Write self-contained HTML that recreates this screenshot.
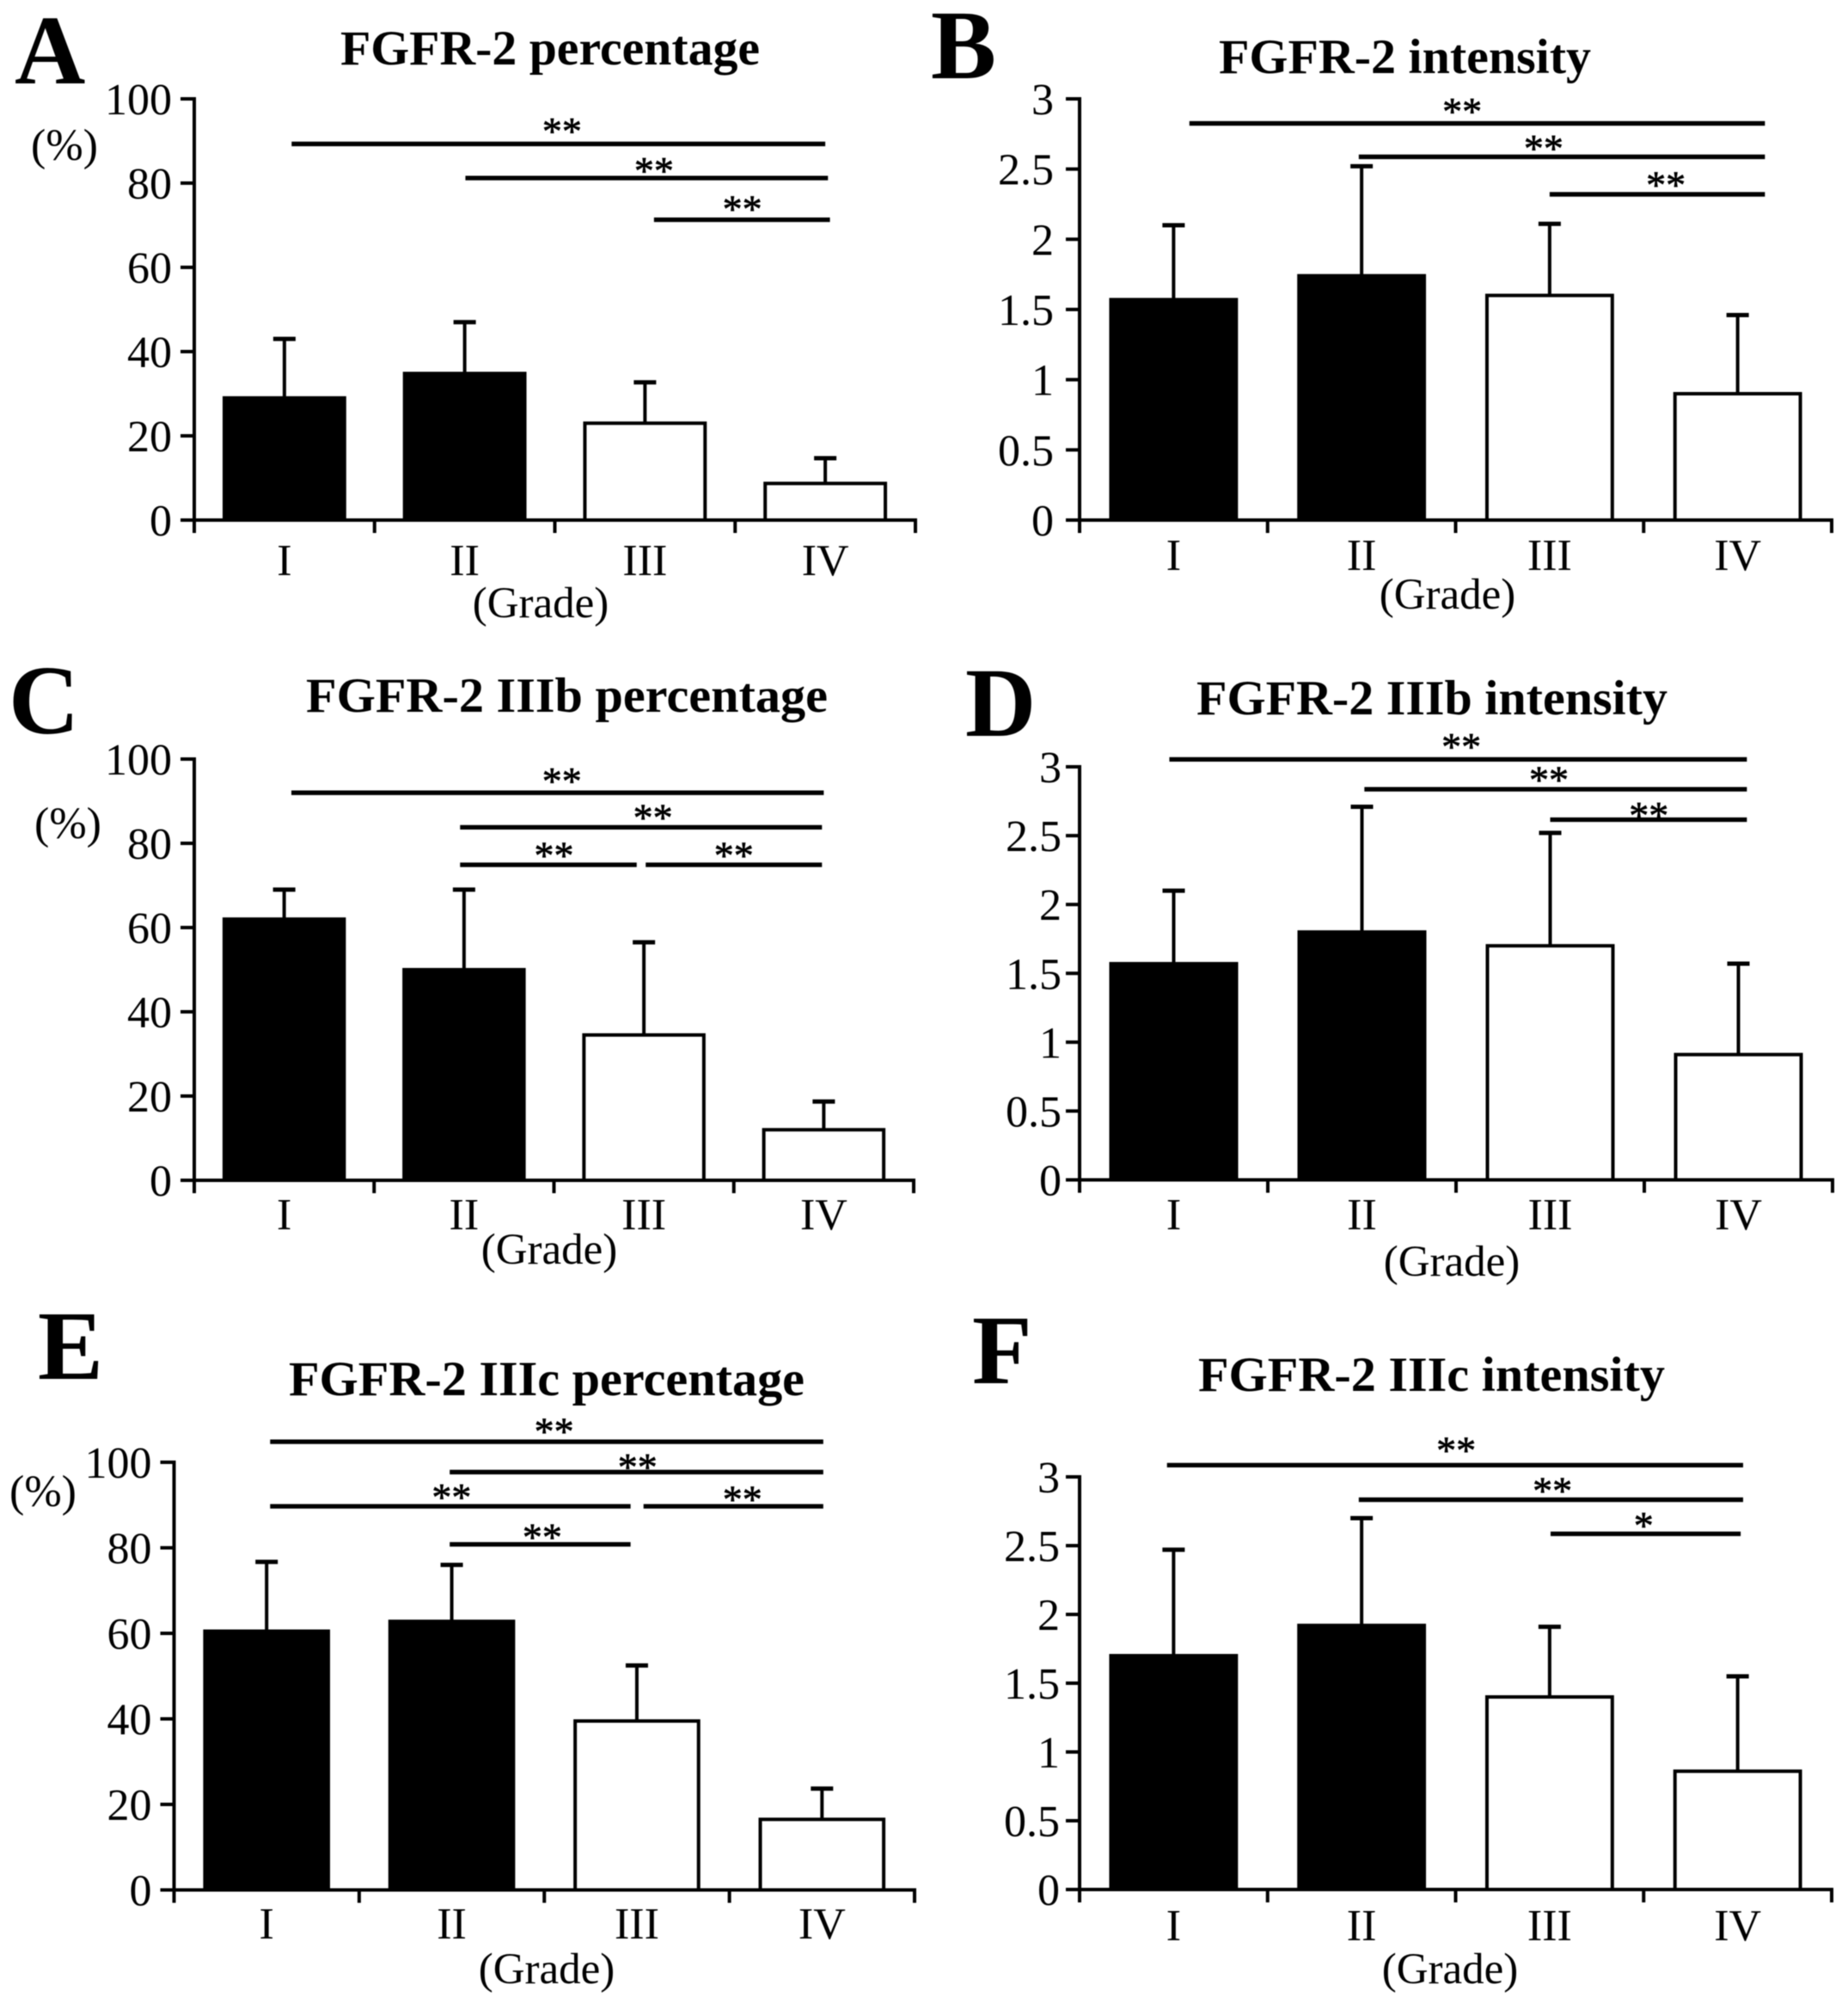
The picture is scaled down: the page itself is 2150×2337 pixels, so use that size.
<!DOCTYPE html>
<html>
<head>
<meta charset="utf-8">
<title>FGFR-2 expression by grade</title>
<style>
html,body{margin:0;padding:0;background:#fff;}
svg{display:block;filter:blur(0.5px);}
text{font-family:"Liberation Serif",serif;fill:#000;}
.letter{font-size:114px;font-weight:bold;}
.title{font-size:57px;font-weight:bold;}
.lab{font-size:52px;}
.grade{font-size:51px;}
</style>
</head>
<body>
<svg id="fig" xmlns="http://www.w3.org/2000/svg" width="2150" height="2337" viewBox="0 0 2150 2337">
<rect width="2150" height="2337" fill="#fff"/>
<g id="panel-a">
<text class="letter" x="17" y="97">A</text>
<text class="title" x="396" y="75" textLength="488" lengthAdjust="spacingAndGlyphs">FGFR-2 percentage</text>
<text class="lab" x="75" y="186" text-anchor="middle">(%)</text>
<text class="grade" x="629" y="718" text-anchor="middle">(Grade)</text>
</g>
<g id="panel-b">
<text class="letter" x="1083" y="91">B</text>
<text class="title" x="1418" y="85" textLength="433" lengthAdjust="spacingAndGlyphs">FGFR-2 intensity</text>
<text class="grade" x="1684" y="708" text-anchor="middle">(Grade)</text>
</g>
<g id="panel-c">
<text class="letter" x="10" y="853">C</text>
<text class="title" x="356" y="828" textLength="607" lengthAdjust="spacingAndGlyphs">FGFR-2 IIIb percentage</text>
<text class="lab" x="79" y="975" text-anchor="middle">(%)</text>
<text class="grade" x="639" y="1470" text-anchor="middle">(Grade)</text>
</g>
<g id="panel-d">
<text class="letter" x="1123" y="856">D</text>
<text class="title" x="1392" y="831" textLength="548" lengthAdjust="spacingAndGlyphs">FGFR-2 IIIb intensity</text>
<text class="grade" x="1689" y="1484" text-anchor="middle">(Grade)</text>
</g>
<g id="panel-e">
<text class="letter" x="44" y="1604">E</text>
<text class="title" x="336" y="1623" textLength="600" lengthAdjust="spacingAndGlyphs">FGFR-2 IIIc percentage</text>
<text class="lab" x="50" y="1752" text-anchor="middle">(%)</text>
<text class="grade" x="636" y="2307" text-anchor="middle">(Grade)</text>
</g>
<g id="panel-f">
<text class="letter" x="1131" y="1609">F</text>
<text class="title" x="1394" y="1618" textLength="543" lengthAdjust="spacingAndGlyphs">FGFR-2 IIIc intensity</text>
<text class="grade" x="1687" y="2307" text-anchor="middle">(Grade)</text>
</g>
</svg>
<script>
// Shared axis data
const categories = ['I', 'II', 'III', 'IV'];
const percentTicks = [0, 20, 40, 60, 80, 100];
const intensityTicks = [0, 0.5, 1, 1.5, 2, 2.5, 3];

// Bar means and error-bar tops (axis units)
const valuesA = [29, 34.8, 23, 8.7];
const errorTopsA = [43, 47, 32.7, 14.7];
const valuesB = [1.57, 1.74, 1.6, 0.9];
const errorTopsB = [2.1, 2.52, 2.11, 1.46];
const valuesC = [62, 50, 34.5, 12];
const errorTopsC = [69, 69, 56.5, 18.7];
const valuesD = [1.57, 1.8, 1.7, 0.91];
const errorTopsD = [2.1, 2.71, 2.52, 1.57];
const valuesE = [60.5, 62.8, 39.5, 16.5];
const errorTopsE = [76.7, 76, 52.5, 23.7];
const valuesF = [1.7, 1.92, 1.4, 0.86];
const errorTopsF = [2.47, 2.7, 1.91, 1.55];

// Significance brackets: start/end in category units, level in axis units
const sigFromA = [0.54, 1.504, 2.55];
const sigToA = [3.5, 3.515, 3.526];
const sigLevelA = [89.3, 81.2, 71.3];
const sigMarkAtA = [2.04, 2.55, 3.04];
const sigMarkLevelA = [93.5, 84.1, 75];
const sigMarkA = ['**', '**', '**'];

const sigFromB = [0.584, 1.485, 2.5];
const sigToB = [3.645, 3.645, 3.645];
const sigLevelB = [2.825, 2.587, 2.32];
const sigMarkAtB = [2.035, 2.468, 3.118];
const sigMarkLevelB = [2.944, 2.682, 2.42];
const sigMarkB = ['**', '**', '**'];

const sigFromC = [0.54, 1.478, 1.478, 2.51];
const sigToC = [3.5, 3.49, 2.46, 3.49];
const sigLevelC = [92, 83.8, 74.9, 74.9];
const sigMarkAtC = [2.044, 2.55, 2, 3];
const sigMarkLevelC = [95.9, 87.2, 78.3, 78.3];
const sigMarkC = ['**', '**', '**', '**'];

const sigFromD = [0.477, 1.513, 2.5];
const sigToD = [3.545, 3.545, 3.545];
const sigLevelD = [3.054, 2.837, 2.616];
const sigMarkAtD = [2.028, 2.493, 3.024];
const sigMarkLevelD = [3.18, 2.94, 2.682];
const sigMarkD = ['**', '**', '**'];

const sigFromE = [0.519, 1.489, 0.519, 2.536, 1.489];
const sigToE = [3.507, 3.507, 2.466, 3.507, 2.466];
const sigLevelE = [104.8, 97.7, 89.7, 89.7, 80.8];
const sigMarkAtE = [2.053, 2.504, 1.499, 3.07, 1.989];
const sigMarkLevelE = [108.3, 100, 93, 92.5, 83.6];
const sigMarkE = ['**', '**', '**', '**', '**'];

const sigFromF = [0.465, 1.485, 2.505];
const sigToF = [3.529, 3.529, 3.516];
const sigLevelF = [3.085, 2.834, 2.586];
const sigMarkAtF = [2.003, 2.515, 3];
const sigMarkLevelF = [3.228, 2.935, 2.68];
const sigMarkF = ['**', '**', '*'];

const SVG_NS = 'http://www.w3.org/2000/svg';

function make(tag, attrs, parent) {
  const el = document.createElementNS(SVG_NS, tag);
  for (const key in attrs) el.setAttribute(key, attrs[key]);
  parent.appendChild(el);
  return el;
}

function drawPanel(id, frame, ticks, values, errorTops, sigFrom, sigTo, sigLevel, sigMarkAt, sigMarkLevel, sigMark) {
  const g = document.getElementById('panel-' + id);
  const yMax = ticks[ticks.length - 1];
  const catWidth = (frame.x1 - frame.x0) / categories.length;
  const xScale = c => frame.x0 + c * catWidth;
  const yScale = v => frame.y0 - (v / yMax) * (frame.y0 - frame.yTop);

  // Bars and error bars
  categories.forEach((cat, i) => {
    const cx = xScale(i + 0.5);
    const half = catWidth / 3;

    const err = make('line', {x1: cx, x2: cx, y1: yScale(values[i]), y2: yScale(errorTops[i]), stroke: '#000', 'stroke-width': 4}, g);
    
    

    const cap = make('line', {x1: cx - 13, x2: cx + 13, y1: yScale(errorTops[i]), y2: yScale(errorTops[i]), stroke: '#000', 'stroke-width': 5}, g);
    
    

    const bar = make('rect', {
      x: cx - half,
      y: yScale(values[i]),
      width: half * 2,
      height: frame.y0 - yScale(values[i]),
      fill: i < 2 ? '#000' : '#fff',
      stroke: '#000',
      'stroke-width': 4
    }, g);
    
    

    const label = make('text', {class: 'lab', x: cx, y: frame.labelY, 'text-anchor': 'middle'}, g);
    label.textContent = cat;
    
    
  });

  // Y axis
  const yAxis = make('line', {x1: frame.x0, x2: frame.x0, y1: frame.yTop - 2, y2: frame.y0 + 15, stroke: '#000', 'stroke-width': 4}, g);
  
  

  ticks.forEach(t => {
    const tick = make('line', {x1: frame.x0 - 16, x2: frame.x0, y1: yScale(t), y2: yScale(t), stroke: '#000', 'stroke-width': 4}, g);
    
    

    const label = make('text', {class: 'lab', x: frame.x0 - frame.labelGap, y: yScale(t) + 18, 'text-anchor': 'end'}, g);
    label.textContent = String(t);
    
    
  });

  // X axis
  const xAxis = make('line', {x1: frame.x0, x2: frame.x1 + 2, y1: frame.y0, y2: frame.y0, stroke: '#000', 'stroke-width': 4}, g);
  
  

  for (let i = 1; i <= categories.length; i++) {
    const tick = make('line', {x1: xScale(i), x2: xScale(i), y1: frame.y0, y2: frame.y0 + 15, stroke: '#000', 'stroke-width': 4}, g);
    
    
  }

  // Significance brackets
  sigFrom.forEach((from, i) => {
    const line = make('line', {x1: xScale(from), x2: xScale(sigTo[i]), y1: yScale(sigLevel[i]), y2: yScale(sigLevel[i]), stroke: '#000', 'stroke-width': 5.3}, g);
    
    

    const mark = make('text', {x: xScale(sigMarkAt[i]), y: yScale(sigMarkLevel[i]) + 21, 'text-anchor': 'middle', 'font-size': 46, stroke: '#000', 'stroke-width': 0.7}, g);
    mark.textContent = sigMark[i];
    
    
  });
}

drawPanel('a', {x0: 226, x1: 1065, y0: 605, yTop: 115, labelY: 669, labelGap: 26}, percentTicks, valuesA, errorTopsA, sigFromA, sigToA, sigLevelA, sigMarkAtA, sigMarkLevelA, sigMarkA);
drawPanel('b', {x0: 1256, x1: 2131, y0: 605, yTop: 115, labelY: 663, labelGap: 30}, intensityTicks, valuesB, errorTopsB, sigFromB, sigToB, sigLevelB, sigMarkAtB, sigMarkLevelB, sigMarkB);
drawPanel('c', {x0: 226, x1: 1063, y0: 1373, yTop: 883, labelY: 1430, labelGap: 26}, percentTicks, valuesC, errorTopsC, sigFromC, sigToC, sigLevelC, sigMarkAtC, sigMarkLevelC, sigMarkC);
drawPanel('d', {x0: 1256, x1: 2132, y0: 1372.5, yTop: 892, labelY: 1430, labelGap: 21}, intensityTicks, valuesD, errorTopsD, sigFromD, sigToD, sigLevelD, sigMarkAtD, sigMarkLevelD, sigMarkD);
drawPanel('e', {x0: 202.5, x1: 1064, y0: 2198.5, yTop: 1701, labelY: 2255, labelGap: 26}, percentTicks, valuesE, errorTopsE, sigFromE, sigToE, sigLevelE, sigMarkAtE, sigMarkLevelE, sigMarkE);
drawPanel('f', {x0: 1256, x1: 2131, y0: 2198, yTop: 1718, labelY: 2257, labelGap: 23}, intensityTicks, valuesF, errorTopsF, sigFromF, sigToF, sigLevelF, sigMarkAtF, sigMarkLevelF, sigMarkF);
</script>
</body>
</html>
